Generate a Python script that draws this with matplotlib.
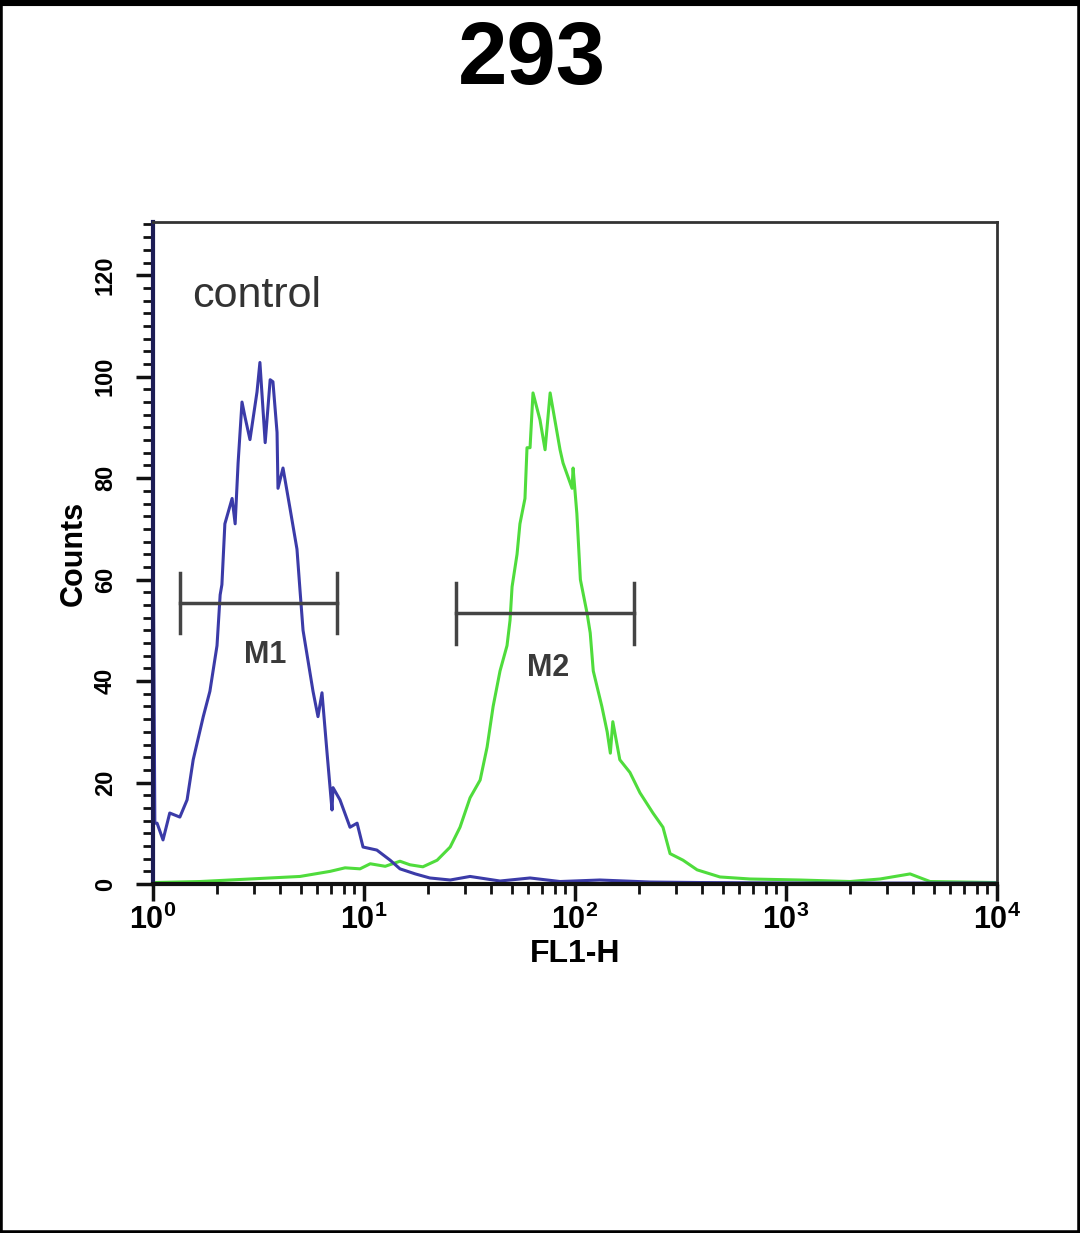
import matplotlib
matplotlib.use('Agg')
import matplotlib.pyplot as plt
from matplotlib.patches import Rectangle
from matplotlib.lines import Line2D
from matplotlib.ticker import FixedLocator, MultipleLocator, LogLocator, NullFormatter

plt.rcParams['font.family'] = ['Liberation Sans', 'DejaVu Sans']

# control histogram (blue)
blue_x = [1.0, 1.02, 1.045, 1.115, 1.20, 1.34, 1.45, 1.55, 1.73, 1.86, 2.01, 2.08, 2.12,
          2.19, 2.37, 2.45, 2.53, 2.64, 2.73, 2.88, 3.11, 3.21, 3.40, 3.59, 3.70, 3.87,
          3.91, 4.13, 4.46, 4.81, 4.97, 5.14, 5.73, 6.05, 6.32, 6.68, 7.05, 7.13, 7.69,
          8.58, 9.27, 9.89, 11.5, 13.3, 14.8, 17.5, 20.5, 25.6, 31.8, 44.1, 61.2, 84.9,
          131, 227, 391, 1165, 10000]
blue_counts = [72, 12, 12, 8.7, 14, 13.2, 16.6, 24.5, 33, 38, 47, 57, 59,
               71, 76, 71, 83, 95, 92, 87.6, 97, 102.8, 87, 99.4, 99, 89,
               78, 82, 74, 66, 58, 50, 38, 33, 37.7, 25.8, 14.6, 19, 16.6,
               11.2, 12, 7.3, 6.7, 4.7, 3, 2, 1.2, 0.8, 1.5, 0.6, 1.2, 0.5,
               0.8, 0.4, 0.3, 0.2, 0.2]

# stained sample histogram (green)
green_x = [1.0, 1.67, 2.88, 4.97, 6.9, 8.13, 9.57, 10.7, 12.6, 14.8, 16.5, 19.0, 22.2,
           25.6, 28.5, 31.8, 35.5, 38.3, 40.9, 44.1, 47.6, 49.2, 50.3, 53.1, 54.8, 57.9,
           59.2, 61.2, 63.2, 68.2, 72.1, 76.2, 84.9, 87.7, 96.8, 97.9, 102, 106, 114,
           118, 122, 134, 142, 147, 151, 163, 182, 203, 234, 261, 282, 325, 379, 486,
           675, 1165, 2011, 2789, 3871, 4810, 10000]
green_counts = [0.3, 0.5, 1.0, 1.5, 2.5, 3.2, 3, 4, 3.5, 4.5, 3.8, 3.4, 4.7,
                7.3, 11.2, 17, 20.5, 27, 35, 42, 47, 52, 58.6, 65, 71, 76,
                86, 86, 96.8, 91.5, 85.6, 96.8, 85.6, 83, 78, 82, 73, 60, 53.4,
                49.5, 42, 35, 30, 25.8, 32, 24.5, 22, 18, 14, 11.2, 6, 4.7, 2.8, 1.4,
                1.0, 0.8, 0.5, 1.0, 2.0, 0.5, 0.3]

# marker gates M1 / M2
gate_names = ['M1', 'M2']
gate_lo = [1.34, 27.3]
gate_hi = [7.45, 190]
gate_level = [55.4, 53.4]
gate_label_x = [3.40, 74.5]
gate_label_y = [45.2, 42.6]

y_ticks = [0, 20, 40, 60, 80, 100, 120]
x_ticks = [1, 10, 100, 1000, 10000]
x_tick_labels = [r'$\mathregular{10^{0}}$', r'$\mathregular{10^{1}}$', r'$\mathregular{10^{2}}$',
                 r'$\mathregular{10^{3}}$', r'$\mathregular{10^{4}}$']

fig = plt.figure(figsize=(10.8, 12.33), dpi=100)
ax = fig.add_axes([0.1417, 0.2830, 0.7815, 0.5370])

ax.plot(green_x, green_counts, color='#4fdc3c', lw=2.2)
ax.plot(blue_x, blue_counts, color='#3b3ba8', lw=2.2)

for name, lo, hi, lev, lx, ly in zip(gate_names, gate_lo, gate_hi, gate_level, gate_label_x, gate_label_y):
    ax.plot([lo, hi], [lev, lev], color='#444444', lw=2.5)
    ax.plot([lo, lo], [lev - 6, lev + 6], color='#444444', lw=2.5)
    ax.plot([hi, hi], [lev - 6, lev + 6], color='#444444', lw=2.5)
    ax.text(lx, ly, name, fontsize=22, fontweight='bold', color='#3a3a3a', ha='center', va='center')

ax.text(1.53, 116, 'control', fontsize=31, color='#333333', ha='left', va='center')

ax.set_xscale('log')
ax.set_xlim(1, 10000)
ax.set_ylim(0, 130.5)

ax.xaxis.set_major_locator(FixedLocator(x_ticks))
ax.set_xticklabels(x_tick_labels)
ax.xaxis.set_minor_locator(LogLocator(base=10, subs=range(2, 10)))
ax.xaxis.set_minor_formatter(NullFormatter())
ax.yaxis.set_major_locator(FixedLocator(y_ticks))
ax.yaxis.set_minor_locator(MultipleLocator(2.5))

ax.tick_params(axis='both', which='major', direction='out', length=12, width=2.5, color='#111111')
ax.tick_params(axis='both', which='minor', direction='out', length=7, width=2.0, color='#111111')
ax.tick_params(axis='x', which='major', pad=3)
ax.tick_params(axis='y', which='major', pad=14, labelrotation=90)
for lab in ax.get_xticklabels():
    lab.set_fontsize(22)
    lab.set_fontweight('bold')
for lab in ax.get_yticklabels():
    lab.set_va('center')
    lab.set_fontsize(17)
    lab.set_fontweight('bold')

ax.set_xlabel('FL1-H', fontsize=23, fontweight='bold', labelpad=2)
ax.set_ylabel('Counts', fontsize=22, fontweight='bold', labelpad=4)

ax.spines['left'].set_color('#1c1c55')
ax.spines['left'].set_linewidth(3)
ax.spines['bottom'].set_color('#111111')
ax.spines['bottom'].set_linewidth(3)
ax.spines['top'].set_color('#333333')
ax.spines['top'].set_linewidth(2)
ax.spines['right'].set_color('#333333')
ax.spines['right'].set_linewidth(2)

fig.text(0.4926, 1 - 84 / 1233, '293', fontsize=64, fontweight='bold', ha='center', va='baseline')

# frame around the whole picture
fig.add_artist(Rectangle((0, 0), 1, 1, transform=fig.transFigure, fill=False, ec='black', lw=4))
fig.add_artist(Line2D([0, 1], [1, 1], transform=fig.transFigure, color='black', lw=8))

fig.savefig('out.png', dpi=100)
